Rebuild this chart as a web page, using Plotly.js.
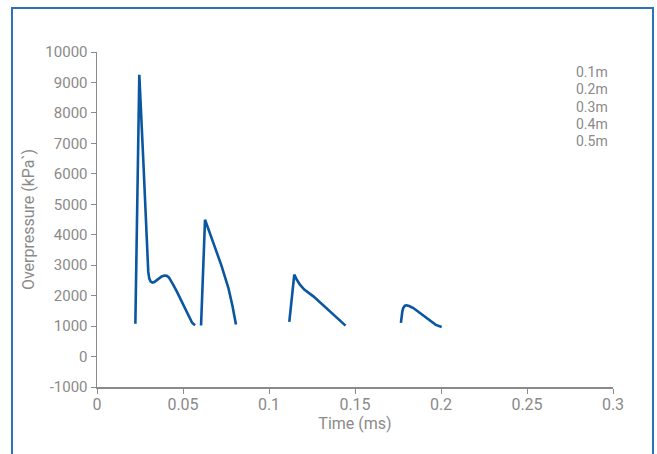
<!DOCTYPE html>
<html><head><meta charset="utf-8">
<script src="https://cdn.plot.ly/plotly-3.0.1.min.js"></script>
<style>
html,body{margin:0;padding:0;background:#fff;}
#frame{position:absolute;left:11px;top:7px;width:643px;height:460px;border:2px solid #2f72ba;border-bottom:none;box-sizing:border-box;}
#chart{position:absolute;left:0;top:0;width:657px;height:454px;}
</style></head>
<body>
<div id="frame"></div>
<div id="chart"></div>
<script>
const seriesNames = ["0.1m", "0.2m", "0.3m", "0.4m", "0.5m"];
const x1 = [0.0223, 0.0246, 0.0269, 0.0285, 0.0293, 0.0298, 0.0304, 0.0312, 0.0322, 0.0333, 0.0346, 0.0360, 0.0376, 0.0392, 0.0406, 0.0418, 0.0430, 0.0445, 0.0463, 0.0482, 0.0502, 0.0520, 0.0537, 0.0553, 0.0570];
const y1 = [1080, 9250, 6460, 4270, 3180, 2780, 2560, 2460, 2430, 2445, 2500, 2570, 2630, 2660, 2650, 2600, 2500, 2340, 2150, 1930, 1705, 1480, 1270, 1110, 1026];
const x2 = [0.0605, 0.0628, 0.0677, 0.0725, 0.0764, 0.0776, 0.0788, 0.0798, 0.0808];
const y2 = [1020, 4490, 3726, 2962, 2250, 1980, 1650, 1350, 1050];
const x3 = [0.1118, 0.1147, 0.1162, 0.1180, 0.1205, 0.1258, 0.1445];
const y3 = [1140, 2690, 2520, 2361, 2200, 1977, 1016];
const x4 = [0.1767, 0.1770, 0.1775, 0.1781, 0.1790, 0.1800, 0.1815, 0.1839, 0.1878, 0.1936, 0.1970, 0.2004];
const y4 = [1104, 1300, 1480, 1600, 1670, 1685, 1660, 1593, 1430, 1158, 1040, 970];
const xTicks = [0, 0.05, 0.1, 0.15, 0.2, 0.25, 0.3];
const xTickLabels = ["0", "0.05", "0.1", "0.15", "0.2", "0.25", "0.3"];
const yTicks = [-1000, 0, 1000, 2000, 3000, 4000, 5000, 6000, 7000, 8000, 9000, 10000];
const yTickLabels = ["-1000", "0", "1000", "2000", "3000", "4000", "5000", "6000", "7000", "8000", "9000", "10000"];

const FAM = 'Roboto, "Liberation Sans", Arial, sans-serif';
const GRAY = '#8a8a8a';
const fnt = (s) => ({family: FAM, size: s, color: GRAY});
const lineColor = '#0a56a0';
const xs = [x1, x2, x3, x4], ys = [y1, y2, y3, y4];
const traces = xs.map((x, i) => ({
  x: x, y: ys[i], type: 'scatter', mode: 'lines', name: seriesNames[i],
  line: {color: lineColor, width: 2.6, shape: 'linear'}, showlegend: false, hoverinfo: 'skip'
}));
const annotations = seriesNames.map((n, i) => ({
  xref: 'paper', yref: 'paper', x: (574 - 97) / 516, y: (387 - (72 + i * 17.3)) / 335,
  xanchor: 'left', yanchor: 'middle', text: n, showarrow: false, font: fnt(14)
}));
const layout = {
  width: 657, height: 454,
  margin: {l: 97, r: 44, t: 52, b: 67},
  paper_bgcolor: 'rgba(0,0,0,0)', plot_bgcolor: 'rgba(0,0,0,0)',
  font: fnt(14),
  xaxis: {
    range: [0, 0.3], tickvals: xTicks, ticktext: xTickLabels,
    showgrid: false, zeroline: false, showline: true, linecolor: GRAY, linewidth: 1.5,
    ticks: 'outside', ticklen: 5, tickcolor: GRAY, tickfont: fnt(16), ticklabelstandoff: -3,
    title: {text: 'Time (ms)', font: fnt(16), standoff: 2}
  },
  yaxis: {
    range: [-1000, 10000], tickvals: yTicks, ticktext: yTickLabels,
    showgrid: false, zeroline: false, showline: true, linecolor: GRAY, linewidth: 1.5,
    ticks: 'outside', ticklen: 5, tickcolor: GRAY, tickfont: fnt(15),
    title: {text: 'Overpressure (kPa`)', font: fnt(16), standoff: 6}
  },
  annotations: annotations
};
Plotly.newPlot('chart', traces, layout, {displayModeBar: false, staticPlot: true});
</script>
</body></html>
